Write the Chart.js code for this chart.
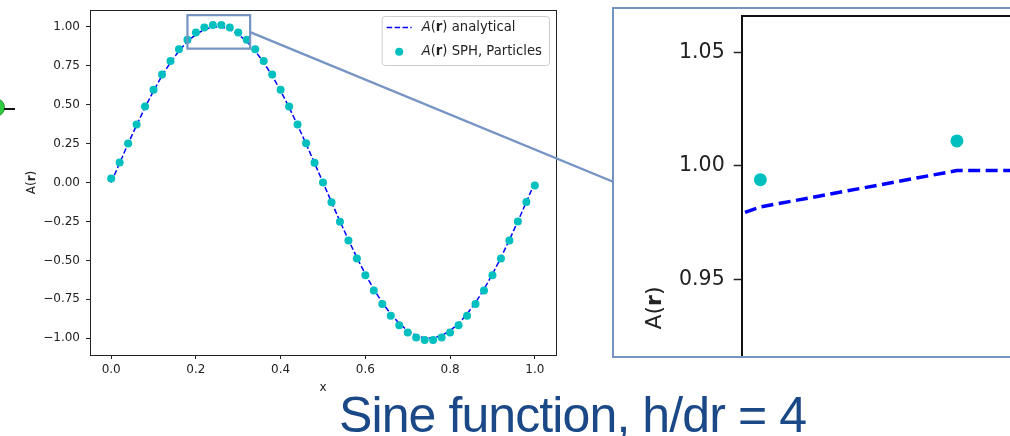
<!DOCTYPE html>
<html>
<head>
<meta charset="utf-8">
<script src="https://cdn.jsdelivr.net/npm/chart.js@4.4.1/dist/chart.umd.min.js"></script>
<style>
  html, body { margin: 0; padding: 0; background: #fff; overflow: hidden; }
  body { width: 1010px; height: 436px; position: relative; }
  #mainWrap { position: absolute; left: 0; top: 0; width: 613px; height: 436px; }
  #zoomFrame { position: absolute; left: 612px; top: 7px; width: 500px; height: 347px; border: 2px solid #7594c4; }
  #zoomWrap { position: absolute; left: 614px; top: 9px; width: 396px; height: 347px; overflow: hidden; }
  #dot { position: absolute; left: -14px; top: 98px; width: 17px; height: 17px; border-radius: 50%;
         background: #2ecc40; border: 1px solid #1f8f2a; }
  #dotLine { position: absolute; left: 4px; top: 108px; width: 11px; height: 1.5px; background: #111; }
  #title { position: absolute; left: 339px; top: 390px; font-family: "Liberation Sans Narrow", "Liberation Sans", sans-serif;
           font-size: 50px; line-height: 50px; letter-spacing: -0.9px; color: #1b4887; white-space: nowrap; }
</style>
</head>
<body>
<div id="mainWrap"><canvas id="mainChart" width="613" height="436"></canvas></div>
<div id="zoomFrame"></div>
<div id="zoomWrap"><canvas id="zoomChart" width="396" height="347"></canvas></div>
<div id="dot"></div>
<div id="dotLine"></div>
<div id="title">Sine function, h/dr = 4</div>

<script>
// particle positions
const xValues = [0.00, 0.02, 0.04, 0.06, 0.08, 0.10, 0.12, 0.14, 0.16, 0.18,
                 0.20, 0.22, 0.24, 0.26, 0.28, 0.30, 0.32, 0.34, 0.36, 0.38,
                 0.40, 0.42, 0.44, 0.46, 0.48, 0.50, 0.52, 0.54, 0.56, 0.58,
                 0.60, 0.62, 0.64, 0.66, 0.68, 0.70, 0.72, 0.74, 0.76, 0.78,
                 0.80, 0.82, 0.84, 0.86, 0.88, 0.90, 0.92, 0.94, 0.96, 0.98, 1.00];

// A(r) analytical
const analytical = [0.000, 0.125, 0.249, 0.368, 0.482, 0.588, 0.685, 0.771, 0.844, 0.905,
                    0.951, 0.982, 0.998, 0.998, 0.982, 0.951, 0.905, 0.844, 0.771, 0.685,
                    0.588, 0.482, 0.368, 0.249, 0.125, 0.000, -0.125, -0.249, -0.368, -0.482,
                    -0.588, -0.685, -0.771, -0.844, -0.905, -0.951, -0.982, -0.998, -0.998, -0.982,
                    -0.951, -0.905, -0.844, -0.771, -0.685, -0.588, -0.482, -0.368, -0.249, -0.125, 0.000];

// A(r) SPH, particles
const sphValues = [0.025, 0.128, 0.250, 0.373, 0.488, 0.595, 0.693, 0.780, 0.855, 0.916,
                   0.963, 0.994, 1.011, 1.011, 0.994, 0.963, 0.916, 0.855, 0.780, 0.693,
                   0.595, 0.488, 0.373, 0.252, 0.127, 0.000, -0.127, -0.252, -0.373, -0.488,
                   -0.595, -0.693, -0.780, -0.855, -0.916, -0.963, -0.994, -1.011, -1.011, -0.994,
                   -0.963, -0.916, -0.855, -0.780, -0.693, -0.595, -0.488, -0.373, -0.250, -0.125, -0.020];

const xTicks = [0.0, 0.2, 0.4, 0.6, 0.8, 1.0];
const yTicks = [-1.00, -0.75, -0.50, -0.25, 0.00, 0.25, 0.50, 0.75, 1.00];
const zoomYTicks = [0.95, 1.00, 1.05];

const mainXRange = [-0.05, 1.05];
const mainYRange = [-1.107, 1.107];
const zoomBox = [0.18, 0.328, 0.859, 1.074];      // area shown in the inset (x0, x1, y0, y1)
const zoomXRange = [0.2181, 0.2454];
const zoomYRange = [0.9165, 1.0659];

const FONT = "DejaVu Sans";
const lineColor = "#0000ff";
const dotColor = "#00bfbf";
const frameColor = "#7594c4";

const labelParts = [
    [{ t: "A", s: "italic" }, { t: "(" }, { t: "r", s: "bold" }, { t: ") analytical" }],
    [{ t: "A", s: "italic" }, { t: "(" }, { t: "r", s: "bold" }, { t: ") SPH, Particles" }]
];
const axisLabelParts = [{ t: "A" }, { t: "(" }, { t: "r", s: "bold" }, { t: ")" }];

function fmtMinus(v, d) {
    const s = Math.abs(v).toFixed(d);
    return v < 0 ? "\u2212" + s : s;
}

// no extra room for the end labels, the axes box is set by hand
function noPad(s) {
    s.paddingTop = 0;
    s.paddingBottom = 0;
    s.paddingLeft = 0;
    s.paddingRight = 0;
}

// draws text made of parts with different font styles
function drawRich(ctx, parts, x, y, size, align) {
    let total = 0;
    const widths = parts.map(p => {
        ctx.font = (p.s ? p.s + " " : "") + size + "px '" + FONT + "'";
        const w = ctx.measureText(p.t).width;
        total += w;
        return w;
    });
    let cx = align === "center" ? x - total / 2 : x;
    ctx.textBaseline = "middle";
    ctx.textAlign = "left";
    parts.forEach((p, i) => {
        ctx.font = (p.s ? p.s + " " : "") + size + "px '" + FONT + "'";
        ctx.fillText(p.t, cx, y);
        cx += widths[i];
    });
}

function makeDatasets(lineW, dash, radius) {
    return [
        {
            label: "A(r) analytical",
            data: xValues.map((x, i) => ({ x: x, y: analytical[i] })),
            showLine: true,
            borderColor: lineColor,
            borderWidth: lineW,
            borderDash: dash,
            pointRadius: 0,
            fill: false,
            tension: 0,
            order: 1
        },
        {
            label: "A(r) SPH, Particles",
            data: xValues.map((x, i) => ({ x: x, y: sphValues[i] })),
            showLine: false,
            backgroundColor: dotColor,
            borderWidth: 0,
            pointRadius: radius,
            pointHoverRadius: radius,
            order: 0
        }
    ];
}

const mainDecor = {
    id: "mainDecor",
    afterDraw(chart) {
        const ctx = chart.ctx;
        const a = chart.chartArea;
        const xs = chart.scales.x, ys = chart.scales.y;
        ctx.save();

        // spines
        ctx.strokeStyle = "#222";
        ctx.lineWidth = 1;
        ctx.strokeRect(Math.round(a.left) + 0.5, Math.round(a.top) + 0.5,
                       Math.round(a.right - a.left), Math.round(a.bottom - a.top));

        // zoom box
        const bx0 = xs.getPixelForValue(zoomBox[0]), bx1 = xs.getPixelForValue(zoomBox[1]);
        const by0 = ys.getPixelForValue(zoomBox[3]), by1 = ys.getPixelForValue(zoomBox[2]);
        ctx.strokeStyle = frameColor;
        ctx.lineWidth = 2.2;
        ctx.strokeRect(bx0, by0, bx1 - bx0, by1 - by0);

        // connector to the inset
        ctx.beginPath();
        ctx.moveTo(bx1, ys.getPixelForValue(0.965));
        ctx.lineTo(chart.width, 181.7);
        ctx.stroke();

        // legend
        const lx = a.right - 174.3, ly = a.top + 6, lw = 167.3, lh = 49;
        ctx.fillStyle = "rgba(255,255,255,0.85)";
        ctx.strokeStyle = "#cccccc";
        ctx.lineWidth = 1;
        ctx.beginPath();
        ctx.roundRect(lx + 0.5, ly + 0.5, lw, lh, 3);
        ctx.fill();
        ctx.stroke();

        const ds = chart.data.datasets;
        ctx.strokeStyle = ds[0].borderColor;
        ctx.lineWidth = ds[0].borderWidth;
        ctx.setLineDash(ds[0].borderDash);
        ctx.beginPath();
        ctx.moveTo(lx + 5, ly + 11.5);
        ctx.lineTo(lx + 30, ly + 11.5);
        ctx.stroke();
        ctx.setLineDash([]);

        ctx.fillStyle = ds[1].backgroundColor;
        ctx.beginPath();
        ctx.arc(lx + 17.5, ly + 35.7, ds[1].pointRadius, 0, Math.PI * 2);
        ctx.fill();

        ctx.fillStyle = "#222";
        drawRich(ctx, labelParts[0], lx + 40, ly + 12, 13.2, "left");
        drawRich(ctx, labelParts[1], lx + 40, ly + 36, 13.2, "left");

        // axis titles
        ctx.fillStyle = "#222";
        ctx.textAlign = "center";
        ctx.textBaseline = "middle";
        ctx.font = "12px '" + FONT + "'";
        ctx.fillText("x", (a.left + a.right) / 2, a.bottom + 33);

        ctx.translate(a.left - 58, (a.top + a.bottom) / 2);
        ctx.rotate(-Math.PI / 2);
        drawRich(ctx, axisLabelParts, 0, 0, 12, "center");
        ctx.restore();
    }
};

const zoomDecor = {
    id: "zoomDecor",
    afterDraw(chart) {
        const ctx = chart.ctx;
        const a = chart.chartArea;
        ctx.save();
        ctx.strokeStyle = "#111";
        ctx.lineWidth = 2;
        ctx.beginPath();
        ctx.moveTo(a.left, a.top);
        ctx.lineTo(chart.width, a.top);
        ctx.stroke();

        ctx.fillStyle = "#222";
        ctx.translate(a.left - 86, a.top + 292);
        ctx.rotate(-Math.PI / 2);
        drawRich(ctx, axisLabelParts, 0, 0, 22, "center");
        ctx.restore();
    }
};

new Chart(document.getElementById("mainChart").getContext("2d"), {
    type: "scatter",
    data: { datasets: makeDatasets(1.5, [5.5, 2.4], 4) },
    options: {
        responsive: false,
        animation: false,
        devicePixelRatio: 1,
        layout: { autoPadding: false, padding: { left: 0, top: 10, right: 57, bottom: 0 } },
        plugins: { legend: { display: false }, tooltip: { enabled: false } },
        scales: {
            x: {
                type: "linear",
                min: mainXRange[0],
                max: mainXRange[1],
                afterBuildTicks: s => { s.ticks = xTicks.map(v => ({ value: v })); },
                afterFit: s => { s.height = 81; noPad(s); },
                grid: { drawOnChartArea: false, drawTicks: true, tickLength: 4, tickColor: "#222", tickWidth: 1 },
                border: { display: true, color: "#222", width: 1 },
                ticks: {
                    color: "#222",
                    padding: 4,
                    maxRotation: 0,
                    font: { family: FONT, size: 12 },
                    callback: v => fmtMinus(v, 1)
                }
            },
            y: {
                type: "linear",
                min: mainYRange[0],
                max: mainYRange[1],
                afterBuildTicks: s => { s.ticks = yTicks.map(v => ({ value: v })); },
                afterFit: s => { s.width = 90; noPad(s); },
                grid: { drawOnChartArea: false, drawTicks: true, tickLength: 4, tickColor: "#222", tickWidth: 1 },
                border: { display: true, color: "#222", width: 1 },
                ticks: {
                    color: "#222",
                    padding: 6,
                    font: { family: FONT, size: 12 },
                    callback: v => fmtMinus(v, 2)
                }
            }
        }
    },
    plugins: [mainDecor]
});

new Chart(document.getElementById("zoomChart").getContext("2d"), {
    type: "scatter",
    data: { datasets: makeDatasets(3.5, [12, 5.5], 6.5) },
    options: {
        responsive: false,
        animation: false,
        devicePixelRatio: 1,
        layout: { autoPadding: false, padding: { left: 0, top: 7, right: 0, bottom: 0 } },
        plugins: { legend: { display: false }, tooltip: { enabled: false } },
        scales: {
            x: {
                type: "linear",
                display: false,
                min: zoomXRange[0],
                max: zoomXRange[1],
                afterFit: s => { noPad(s); }
            },
            y: {
                type: "linear",
                min: zoomYRange[0],
                max: zoomYRange[1],
                afterBuildTicks: s => { s.ticks = zoomYTicks.map(v => ({ value: v })); },
                afterFit: s => { s.width = 127.7; noPad(s); },
                grid: { drawOnChartArea: false, drawTicks: true, tickLength: 8, tickColor: "#222", tickWidth: 1.5 },
                border: { display: true, color: "#111", width: 2 },
                ticks: {
                    color: "#222",
                    padding: 9,
                    font: { family: FONT, size: 20.5 },
                    callback: v => v.toFixed(2)
                }
            }
        }
    },
    plugins: [zoomDecor]
});
</script>
</body>
</html>
